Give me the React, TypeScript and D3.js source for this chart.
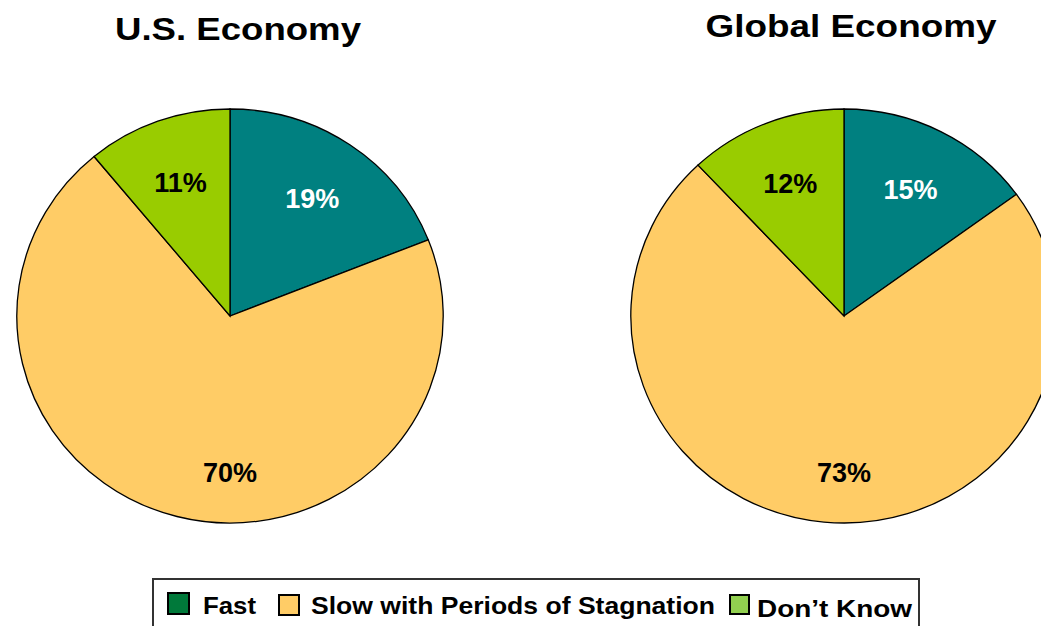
import React from "react";
import * as d3 from "d3";

// ---- data ----
const categories = ["Fast", "Slow with Periods of Stagnation", "Don’t Know"];
const usValues = [19, 70, 11];
const globalValues = [15, 73, 12];
const chartTitles = ["U.S. Economy", "Global Economy"];

// ---- styles ----
const sliceColors = ["#008080", "#FFCC66", "#99CC00"];
const legendColors = ["#00793A", "#FFCC66", "#92D050"];
const labelColors = ["#FFFFFF", "#000000", "#000000"];
const FONT = "Arial, 'Liberation Sans', Helvetica, sans-serif";

const W = 1041;
const H = 626;
const R = 207;
const SX = 1.03;

const pies = [
  { title: chartTitles[0], values: usValues, cx: 230, cy: 316, titleX: 238, titleY: 40, titleLen: 246 },
  { title: chartTitles[1], values: globalValues, cx: 844, cy: 316, titleX: 851, titleY: 37, titleLen: 291 },
];

// legend layout (positions of swatch + text for each category)
const legendLayout = [
  { sx: 168, sy: 593, size: 21, tx: 203, ty: 614, len: 53 },
  { sx: 279, sy: 595, size: 20, tx: 311, ty: 614, len: 404 },
  { sx: 730, sy: 595, size: 19, tx: 757, ty: 617, len: 155 },
];

const pieGen = d3.pie<number>().sort(null).value((d) => d);
const arcGen = d3.arc<d3.PieArcDatum<number>>().innerRadius(0).outerRadius(R);
const labelArc = d3.arc<d3.PieArcDatum<number>>().innerRadius(142).outerRadius(142);
const bigLabelR = 157;

function Pie({ p }: { p: (typeof pies)[number] }) {
  const arcs = pieGen(p.values);
  return (
    <g>
      <text
        x={p.titleX}
        y={p.titleY}
        textAnchor="middle"
        fontFamily={FONT}
        fontWeight="bold"
        fontSize={32}
        textLength={p.titleLen}
        lengthAdjust="spacingAndGlyphs"
        fill="#000"
      >
        {p.title}
      </text>
      <g transform={`translate(${p.cx},${p.cy}) scale(${SX},1)`}>
        {arcs.map((a, i) => (
          <path
            key={i}
            d={arcGen(a) || ""}
            fill={sliceColors[i]}
            stroke="#000"
            strokeWidth={1.3}
            vectorEffect="non-scaling-stroke"
          />
        ))}
      </g>
      {arcs.map((a, i) => {
        const frac = (a.endAngle - a.startAngle) / (2 * Math.PI);
        let x: number, y: number;
        if (frac > 0.5) {
          x = 0;
          y = bigLabelR;
        } else {
          const c = labelArc.centroid(a);
          x = c[0];
          y = c[1];
        }
        return (
          <text
            key={i}
            x={p.cx + x * SX}
            y={p.cy + y}
            dy="0.35em"
            textAnchor="middle"
            fontFamily={FONT}
            fontWeight="bold"
            fontSize={27}
            fill={labelColors[i]}
          >
            {`${p.values[i]}%`}
          </text>
        );
      })}
    </g>
  );
}

export default function App() {
  return (
    <svg
      width={W}
      height={H}
      style={{ position: "absolute", left: 0, top: 0, background: "#fff" }}
    >
      <rect x={0} y={0} width={W} height={H} fill="#fff" />
      {pies.map((p, i) => (
        <Pie key={i} p={p} />
      ))}
      <rect x={153} y={579} width={766} height={70} fill="#fff" stroke="#333" strokeWidth={2} />
      {categories.map((c, i) => {
        const l = legendLayout[i];
        return (
          <g key={c}>
            <rect
              x={l.sx}
              y={l.sy}
              width={l.size}
              height={l.size}
              fill={legendColors[i]}
              stroke="#000"
              strokeWidth={2}
            />
            <text
              x={l.tx}
              y={l.ty}
              fontFamily={FONT}
              fontWeight="bold"
              fontSize={24}
              textLength={l.len}
              lengthAdjust="spacingAndGlyphs"
              fill="#000"
            >
              {c}
            </text>
          </g>
        );
      })}
    </svg>
  );
}
